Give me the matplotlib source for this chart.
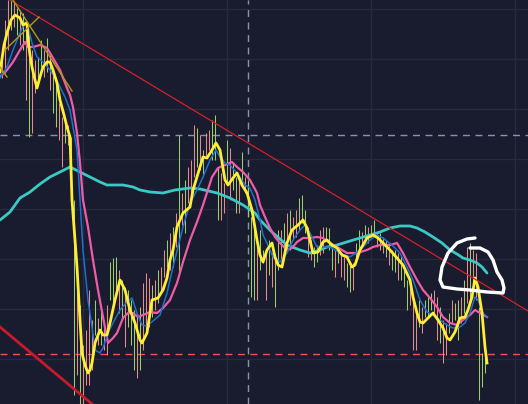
import numpy as np
import matplotlib
matplotlib.use("Agg")
import matplotlib.pyplot as plt

# ---- data (price levels on an inverted scale, time in bar units) ----
bar_high = [55, 20, 0, 0, 3, 8, 10, 13, 30, 33, 50, 60, 57, 40, 50, 38, 55, 70, 80, 103,
            117, 117, 125, 137, 200, 283, 305, 345, 330, 290, 320, 300, 318, 310, 320, 305,
            262, 258, 257, 270, 280, 287, 290, 300, 310, 313, 307, 283, 273, 278, 285, 280,
            270, 267, 250, 240, 233, 227, 213, 135, 193, 180, 167, 160, 125, 128, 135, 150,
            133, 130, 120, 115, 167, 173, 183, 140, 148, 163, 177, 180, 152, 177, 180, 217,
            227, 243, 230, 250, 253, 240, 253, 260, 230, 230, 223, 213, 210, 217, 210, 198,
            195, 210, 227, 240, 247, 245, 230, 227, 227, 228, 247, 250, 247, 253, 257, 263,
            263, 263, 243, 230, 232, 225, 227, 225, 220, 232, 233, 237, 240, 245, 250, 250,
            253, 255, 267, 280, 285, 297, 307, 300, 307, 300, 297, 293, 290, 297, 307, 320,
            323, 313, 300, 303, 300, 297, 280, 247, 243, 250, 253, 307, 353, 347]
bar_low = [78, 73, 50, 30, 27, 35, 45, 50, 100, 137, 133, 93, 80, 67, 77, 72, 90, 113, 127, 140,
           167, 143, 145, 200, 395, 375, 404, 404, 385, 385, 370, 335, 345, 345, 350, 355,
           300, 303, 295, 313, 320, 347, 327, 345, 370, 378, 370, 350, 333, 327, 317, 310,
           303, 293, 277, 267, 270, 267, 247, 275, 225, 233, 203, 193, 177, 167, 170, 177,
           157, 150, 160, 160, 220, 220, 213, 183, 200, 190, 213, 213, 187, 193, 217, 297,
           300, 300, 270, 263, 300, 275, 287, 307, 270, 260, 257, 250, 250, 240, 237, 230,
           223, 233, 257, 260, 267, 262, 255, 253, 240, 250, 270, 277, 263, 277, 280, 287,
           292, 290, 260, 253, 248, 240, 243, 237, 237, 247, 250, 253, 257, 265, 270, 272,
           280, 280, 287, 310, 305, 350, 350, 327, 333, 317, 317, 310, 313, 340, 343, 363,
           355, 333, 323, 320, 340, 323, 313, 303, 303, 290, 300, 400, 387, 373]
bar_dir = list("rrrgrgrgrgrrggrgrggrrgrggrgrrrrgrgrrgggrgrgggrgrrrgrgrrgrgrgrgrrrgrgrrgggrrgrggrgrg"
               "ggrggrgrggrgrgrrgggrrggrrgggrgrrggrggrgrggrgrgrggrgggrrrgrgggrrgrrgrggrgrgrrgggrr")

yellow_t = [0, 4, 7, 11, 15, 20, 23, 27, 28, 30, 32, 35, 37, 40, 43, 47, 50, 53, 57, 60, 64, 67, 70,
            72, 75, 77, 80, 82, 85, 88, 90, 92, 95, 100, 103, 107, 110, 115, 120, 125, 130, 135,
            140, 142, 147, 152, 158, 163, 167, 170, 173, 177, 183, 190, 193, 200, 203, 207, 212,
            216, 220, 225, 228, 233, 237, 242, 247, 252, 257, 260, 263, 267, 272, 275, 278, 282,
            287, 292, 298, 303, 307, 310, 313, 318, 323, 327, 332, 337, 342, 347, 352, 355, 360,
            367, 373, 378, 383, 390, 397, 403, 410, 413, 417, 420, 423, 428, 433, 438, 443, 447,
            450, 455, 460, 465, 468, 472, 475, 478, 482, 485, 487]
yellow_v = [72, 45, 33, 20, 15, 18, 25, 23, 40, 55, 67, 80, 88, 77, 67, 62, 62, 70, 83, 100, 115,
            127, 137, 200, 240, 267, 320, 353, 365, 373, 370, 363, 343, 330, 335, 335, 323, 300,
            280, 290, 310, 323, 340, 343, 333, 300, 298, 290, 278, 260, 250, 227, 213, 207, 190,
            167, 157, 158, 150, 143, 150, 180, 185, 178, 173, 185, 193, 210, 240, 255, 262, 250,
            243, 257, 265, 267, 243, 230, 225, 220, 228, 240, 253, 252, 242, 240, 245, 248, 255,
            257, 267, 265, 250, 238, 235, 238, 243, 250, 258, 265, 280, 297, 313, 322, 323, 318,
            313, 320, 328, 338, 340, 332, 318, 317, 310, 297, 278, 287, 313, 347, 363]

blue_t = [0, 7, 13, 20, 25, 28, 32, 37, 43, 50, 55, 60, 65, 70, 73, 77, 80, 83, 88, 92, 95, 100,
          103, 108, 113, 120, 127, 132, 137, 142, 147, 153, 160, 167, 173, 183, 190, 197, 203,
          210, 216, 220, 225, 230, 237, 245, 250, 255, 260, 263, 267, 273, 280, 287, 293, 300,
          305, 310, 317, 323, 330, 340, 350, 360, 370, 377, 383, 392, 400, 407, 413, 420, 427,
          433, 440, 447, 453, 460, 465, 470, 475, 478, 483, 487]
blue_v = [78, 67, 50, 33, 22, 27, 43, 57, 62, 70, 77, 87, 97, 110, 127, 150, 200, 250, 300, 327,
          350, 353, 348, 333, 323, 310, 302, 298, 313, 325, 326, 321, 315, 293, 267, 227, 203,
          190, 177, 160, 150, 157, 163, 165, 173, 185, 188, 200, 220, 235, 243, 257, 262, 253,
          240, 230, 225, 233, 247, 247, 247, 253, 257, 250, 240, 235, 238, 245, 253, 267, 280,
          300, 312, 315, 320, 325, 328, 327, 323, 313, 297, 300, 313, 317]

pink_t = [0, 7, 13, 20, 25, 28, 33, 40, 47, 53, 60, 67, 70, 73, 77, 80, 83, 88, 93, 98, 103, 108,
          113, 117, 123, 128, 133, 138, 143, 150, 157, 163, 170, 177, 183, 190, 197, 203, 212,
          218, 225, 232, 237, 243, 250, 257, 260, 265, 270, 275, 280, 287, 292, 297, 303, 310,
          317, 323, 330, 337, 347, 357, 367, 373, 380, 390, 397, 403, 410, 417, 423, 430, 437,
          443, 450, 457, 463, 470, 475, 480, 487]
pink_v = [77, 70, 62, 50, 42, 47, 47, 45, 48, 58, 70, 88, 95, 107, 133, 163, 200, 227, 260, 290,
          317, 343, 338, 333, 318, 313, 313, 317, 315, 312, 313, 308, 300, 283, 262, 240, 222,
          205, 177, 168, 165, 162, 167, 172, 180, 193, 205, 217, 228, 237, 243, 250, 248, 242,
          238, 238, 237, 238, 243, 247, 253, 253, 250, 247, 245, 245, 243, 253, 267, 280, 290,
          298, 307, 317, 323, 325, 320, 315, 310, 313, 317]

cyan_t = [0, 10, 20, 30, 40, 50, 60, 70, 80, 90, 100, 107, 123, 133, 140, 150, 163, 175, 190, 200,
          217, 230, 243, 255, 260, 273, 287, 300, 310, 320, 327, 337, 350, 360, 370, 380, 390,
          400, 410, 417, 425, 433, 442, 450, 457, 463, 470, 477, 482, 487]
cyan_v = [220, 212, 198, 192, 184, 177, 172, 167, 172, 177, 182, 185, 185, 187, 190, 192, 193,
          190, 188, 189, 193, 198, 205, 213, 220, 233, 245, 250, 253, 250, 247, 245, 241, 238,
          235, 232, 228, 226, 226, 228, 232, 237, 243, 250, 254, 258, 260, 263, 267, 273]

# drawn annotations (time, level)
red_trend = ([10, 528], [0, 311])
red_lower = ([0, 92], [327, 404])
gold_a = ([13, 72], [0, 91])
gold_b = ([39, 5], [17, 50])
gold_c = ([0, 7], [67, 77])
white_t = [475, 467, 457, 448, 442, 440, 443, 457, 470, 487, 503, 504, 502, 497, 493, 488, 480, 470]
white_v = [238, 239, 243, 253, 267, 280, 287, 289, 290, 292, 293, 288, 280, 272, 260, 252, 248, 248]
level_red = 354
level_cross = 135
cross_time = 248

# ---- drawing ----
BG = "#181c2e"
fig = plt.figure(figsize=(5.28, 4.04), dpi=100, facecolor=BG)
ax = fig.add_axes([0, 0, 1, 1])
ax.set_facecolor(BG)
ax.set_xlim(0, 528)
ax.set_ylim(404, 0)
ax.set_axis_off()

for gy in [9, 59, 109, 159, 209, 259, 309, 359]:
    ax.axhline(gy, color="#252a3c", lw=1.0, zorder=0)
for gx in [83, 227, 371, 515]:
    ax.axvline(gx, color="#252a3c", lw=1.0, zorder=0)

bar_t = 2 + 3 * np.arange(len(bar_high))
cols = ["#9ccf6a" if d == "g" else "#e98a8f" for d in bar_dir[:len(bar_high)]]
ax.vlines(bar_t, bar_high, bar_low, colors=cols, lw=0.75, zorder=2)

ax.axhline(level_cross, color="#8c93a6", lw=1.0, ls=(0, (5, 4)), zorder=1)
ax.axvline(cross_time, color="#8c93a6", lw=1.0, ls=(0, (5, 4)), zorder=1)
ax.axhline(level_red, color="#ef5350", lw=1.0, ls=(0, (5, 4)), zorder=1)

ax.plot(cyan_t, cyan_v, color="#3cc8c4", lw=2.0, zorder=3, solid_capstyle="round")
ax.plot(pink_t, pink_v, color="#f05ca8", lw=1.6, zorder=4)
ax.plot(blue_t, blue_v, color="#1e6fd0", lw=1.1, zorder=5)
ax.plot(yellow_t, yellow_v, color="#ffee33", lw=2.0, zorder=6)

ax.plot(*red_trend, color="#d3202c", lw=0.9, zorder=7)
ax.plot(*red_lower, color="#c81a2a", lw=2.0, zorder=7)
for g in (gold_a, gold_b, gold_c):
    ax.plot(*g, color="#b39a10", lw=1.0, zorder=7)

ax.plot(white_t, white_v, color="white", lw=2.4, zorder=8,
        solid_capstyle="round", solid_joinstyle="round")

fig.savefig("out.png", dpi=100, facecolor=BG)
